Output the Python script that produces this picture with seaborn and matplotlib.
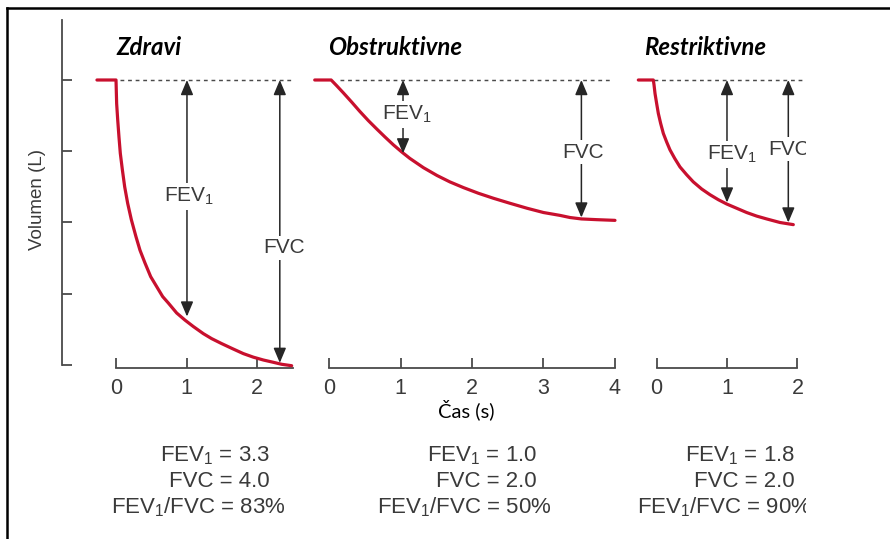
import numpy as np
import pandas as pd
import matplotlib
matplotlib.use("Agg")
import matplotlib.pyplot as plt
import seaborn as sns
from matplotlib.transforms import Bbox

# ---------------- data ----------------
panel_titles = ["Zdravi", "Obstruktivne", "Restriktivne"]

# time (s) and expired volume (L) along each spirogram trace
zdravi_t = [-0.27, 0.0, 0.009, 0.024, 0.042, 0.061, 0.090, 0.123, 0.165, 0.217,
            0.283, 0.340, 0.411, 0.491, 0.576, 0.661, 0.741, 0.859, 0.977,
            1.095, 1.237, 1.355, 1.497, 1.648, 1.803, 1.945, 2.087, 2.219,
            2.347, 2.488]
zdravi_v = [0.0, 0.0, 0.33, 0.56, 0.80, 1.03, 1.26, 1.50, 1.73, 1.96,
            2.20, 2.39, 2.57, 2.76, 2.90, 3.04, 3.13, 3.27, 3.37,
            3.46, 3.56, 3.63, 3.70, 3.77, 3.84, 3.89, 3.93, 3.96,
            3.99, 4.01]

obstr_t = [-0.20, 0.03, 0.107, 0.20, 0.317, 0.43, 0.55, 0.67, 0.783, 0.90,
           1.017, 1.13, 1.32, 1.51, 1.69, 1.88, 2.09, 2.30, 2.53, 2.77,
           3.00, 3.23, 3.37, 3.53, 3.74, 4.00]
obstr_v = [0.0, 0.0, 0.08, 0.18, 0.31, 0.44, 0.57, 0.69, 0.80, 0.91,
           1.01, 1.10, 1.23, 1.34, 1.43, 1.51, 1.59, 1.66, 1.73, 1.80,
           1.86, 1.90, 1.93, 1.95, 1.96, 1.97]

restr_t = [-0.258, -0.045, -0.035, -0.021, 0.002, 0.026, 0.059, 0.097, 0.144,
           0.191, 0.258, 0.333, 0.428, 0.522, 0.641, 0.759, 0.877, 0.995,
           1.137, 1.279, 1.421, 1.563, 1.752, 1.941]
restr_v = [0.0, 0.0, 0.07, 0.19, 0.33, 0.47, 0.61, 0.75, 0.87,
           0.98, 1.10, 1.22, 1.33, 1.43, 1.53, 1.61, 1.68, 1.74,
           1.80, 1.86, 1.91, 1.95, 2.00, 2.03]

# x ticks of each panel
zdravi_ticks = [0, 1, 2]
obstr_ticks = [0, 1, 2, 3, 4]
restr_ticks = [0, 1, 2]
y_ticks = [0, 1, 2, 3, 4]

# arrows: (time, end volume)
zdravi_arrows = [(1.005, 3.32), (2.32, 3.97)]
obstr_arrows = [(1.035, 1.03), (3.53, 1.93)]
restr_arrows = [(1.00, 1.72), (1.87, 2.00)]

# arrow labels: (time, volume baseline, label)
zdravi_labels = [(1.03, 1.71, "FEV$_1$"), (2.38, 2.43, "FVC")]
obstr_labels = [(1.09, 0.56, "FEV$_1$"), (3.55, 1.09, "FVC")]
restr_labels = [(1.07, 1.12, "FEV$_1$"), (1.88, 1.05, "FVC")]

summary = [
    ["FEV$_1$ = 3.3", "FVC = 4.0", "FEV$_1$/FVC = 83%"],
    ["FEV$_1$ = 1.0", "FVC = 2.0", "FEV$_1$/FVC = 50%"],
    ["FEV$_1$ = 1.8", "FVC = 2.0", "FEV$_1$/FVC = 90%"],
]

xlabel = "Čas (s)"
ylabel = "Volumen (L)"

# ---------------- style ----------------
sns.set_theme(style="white")
plt.rcParams["font.family"] = ["Liberation Sans", "DejaVu Sans"]
plt.rcParams["mathtext.fontset"] = "custom"
plt.rcParams["mathtext.rm"] = "Liberation Sans"
plt.rcParams["mathtext.it"] = "Liberation Sans:italic"
plt.rcParams["mathtext.bf"] = "Liberation Sans:bold"

RED = "#c8102e"
GREY = "#3a3a3a"
AXC = "#4a4a4a"

W, H = 890, 539
fig = plt.figure(figsize=(W / 100, H / 100), dpi=100)


def px_axes(l, r, t, b):
    return fig.add_axes([l / W, 1 - b / H, (r - l) / W, (b - t) / H])


# frame (top + left border)
frame = fig.add_axes([7 / W, -0.02, 1.0, (H - 8) / H + 0.02])
frame.set_xticks([]); frame.set_yticks([])
frame.patch.set_alpha(0)
for s in ["right", "bottom"]:
    frame.spines[s].set_visible(False)
for s in ["top", "left"]:
    frame.spines[s].set_color("black")
    frame.spines[s].set_linewidth(1.8)

ymin, ymax = -0.842, 4.0
panels = [
    dict(ax=px_axes(62, 300, 20, 365), xlim=(-0.765, 2.606), bounds=(0, 2.5),
         t=zdravi_t, v=zdravi_v, ticks=zdravi_ticks, arrows=zdravi_arrows,
         labels=zdravi_labels, dot=(0.06, 2.50), title_x=0.01, clip=False),
    dict(ax=px_axes(305, 625, 20, 365), xlim=(-0.336, 4.140), bounds=(0, 4),
         t=obstr_t, v=obstr_v, ticks=obstr_ticks, arrows=obstr_arrows,
         labels=obstr_labels, dot=(0.15, 3.96), title_x=-0.01, clip=False),
    dict(ax=px_axes(630, 806, 20, 365), xlim=(-0.376, 2.121), bounds=(0, 2),
         t=restr_t, v=restr_v, ticks=restr_ticks, arrows=restr_arrows,
         labels=restr_labels, dot=(-0.03, 2.121), title_x=-0.17, clip=True),
]

for i, p in enumerate(panels):
    ax = p["ax"]
    ax.patch.set_alpha(0)
    df = pd.DataFrame({"t": p["t"], "v": p["v"]})
    sns.lineplot(data=df, x="t", y="v", ax=ax, color=RED, lw=2.3,
                 sort=False, estimator=None, clip_on=False, zorder=3)
    ax.lines[-1].set_solid_joinstyle("round")
    ax.set_xlim(*p["xlim"])
    ax.set_ylim(ymax, ymin)
    ax.set_xlabel(""); ax.set_ylabel("")
    # dotted reference line at zero expired volume
    ax.hlines(0, p["dot"][0], p["dot"][1], colors="#4a4a4a", lw=1.05,
              linestyles=(0, (2.6, 2.6)), zorder=2)
    # arrows
    for (tx, ve) in p["arrows"]:
        ax.annotate("", xy=(tx, ve), xytext=(tx, 0.0),
                    arrowprops=dict(arrowstyle="<|-|>,head_length=0.9,head_width=0.38",
                                    mutation_scale=10, color="#262626", lw=1.1,
                                    shrinkA=0, shrinkB=0), zorder=4)
    for (tx, vb, lab) in p["labels"]:
        ax.text(tx, vb, lab, ha="center", va="baseline", fontsize=15,
                color=GREY, zorder=5, clip_on=p["clip"],
                bbox=dict(boxstyle="square,pad=0.12", fc="white", ec="none"))
    # title
    ax.text(p["title_x"], -0.35, panel_titles[i], ha="left", va="baseline",
            fontsize=17.3, fontweight="bold", fontstyle="italic",
            family=["Lato", "Open Sans", "DejaVu Sans"], color="black")
    # spines
    for s in ["top", "right"]:
        ax.spines[s].set_visible(False)
    ax.spines["bottom"].set_bounds(*p["bounds"])
    ax.spines["bottom"].set_position(("outward", 2.5))
    ax.spines["bottom"].set_color(AXC)
    ax.spines["bottom"].set_linewidth(1.3)
    ax.set_xticks(p["ticks"])
    ax.set_xticklabels([str(k) for k in p["ticks"]])
    ax.tick_params(axis="x", direction="in", length=7.5, width=1.3,
                   color=AXC, labelsize=15.5, labelcolor=GREY, pad=7,
                   bottom=True)
    if i == 0:
        ax.spines["left"].set_bounds(ymin, ymax)
        ax.spines["left"].set_color(AXC)
        ax.spines["left"].set_linewidth(1.3)
        ax.set_yticks(y_ticks)
        ax.set_yticklabels([])
        ax.tick_params(axis="y", direction="in", length=7.5, width=1.3,
                       color=AXC, left=True)
    else:
        ax.spines["left"].set_visible(False)
        ax.set_yticks([])

# axis labels
fig.text(38 / W, 1 - 200 / H, ylabel, rotation=90, ha="center", va="center",
         fontsize=13.5, color=GREY)
fig.text(466 / W, 1 - 410 / H, xlabel, ha="center", va="center",
         fontsize=14.5, color="black", family=["Lato", "Open Sans", "DejaVu Sans"])

# summary values under each panel
right_edges = [(270, 270, 286), (537, 537, 552), (795, 795, 812)]
baselines = [461, 487, 513]
clip = Bbox.from_extents(0, 0, 806, H)
for blk, edges in zip(summary, right_edges):
    for line, xr, yb in zip(blk, edges, baselines):
        t = fig.text(xr / W, 1 - yb / H, line, ha="right", va="baseline",
                     fontsize=16, color=GREY)
        t.set_clip_box(clip)
        t.set_clip_on(True)

fig.savefig("out.png", dpi=100)
